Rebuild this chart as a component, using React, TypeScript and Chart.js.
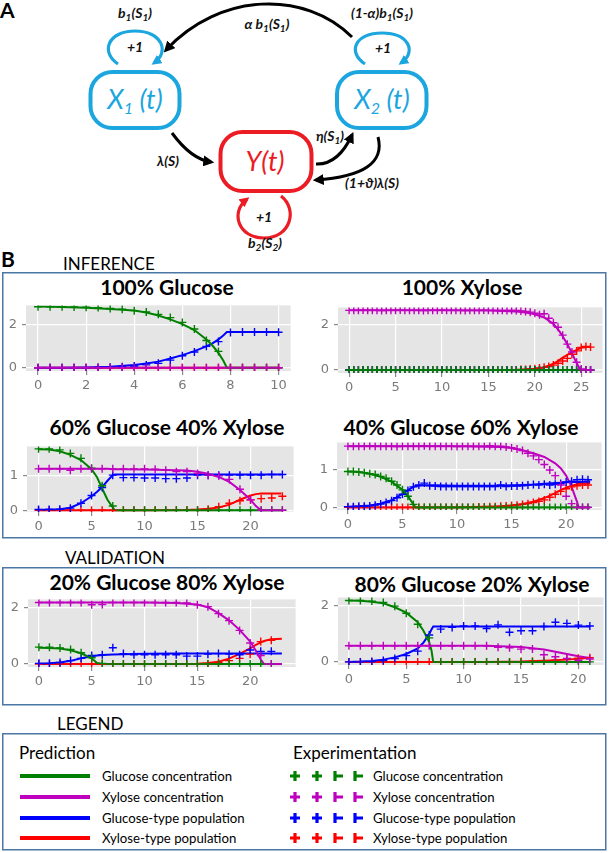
import React, { useEffect, useRef } from 'react';
import { Chart, registerables } from 'chart.js';

Chart.register(...registerables);

// ---------------- DATA ----------------
const seriesNames = ['Glucose concentration', 'Xylose concentration', 'Glucose-type population', 'Xylose-type population'];
const seriesColors = ['#008000', '#BF00BF', '#0000FF', '#FF0000'];

const xTicks10 = [0, 2, 4, 6, 8, 10];
const xTicks25 = [0, 5, 10, 15, 20, 25];
const xTicks20 = [0, 5, 10, 15, 20];
const yTicks2 = [0, 2];
const yTicks1 = [0, 1];

// Chart 1: 100% Glucose
const c1PredT = [0, 1, 2, 3, 4, 4.5, 5, 5.5, 6, 6.5, 7, 7.25, 7.5, 7.7, 7.85, 8, 9, 10];
const c1PredGlc = [2.81, 2.79, 2.75, 2.7, 2.63, 2.53, 2.4, 2.22, 2.0, 1.73, 1.3, 1.02, 0.68, 0.33, 0, 0, 0, 0];
const c1PredXyl = [0, 0, 0, 0, 0, 0, 0, 0, 0, 0, 0, 0, 0, 0, 0, 0, 0, 0];
const c1PredGpop = [0, 0, 0.01, 0.04, 0.12, 0.19, 0.28, 0.42, 0.58, 0.76, 0.98, 1.12, 1.3, 1.48, 1.64, 1.64, 1.64, 1.64];
const c1PredXpop = [0, 0, 0, 0, 0, 0, 0, 0, 0, 0, 0, 0, 0, 0, 0, 0, 0, 0];
const c1ExpT = [0, 0.5, 1, 1.5, 2, 2.5, 3, 3.5, 4, 4.5, 5, 5.5, 6, 6.5, 7, 7.5, 8, 8.5, 9, 9.5, 10];
const c1ExpGlc = [2.8, 2.8, 2.8, 2.79, 2.78, 2.76, 2.72, 2.68, 2.62, 2.56, 2.45, 2.3, 2.08, 1.78, 1.25, 0.75, 0, 0, 0, 0, 0];
const c1ExpXyl = [0, 0, 0, 0, 0, 0, 0, 0, 0, 0, 0, 0, 0, 0, 0, 0, 0, 0, 0, 0, 0];
const c1ExpGpop = [0, 0, 0, 0, 0, 0.01, 0.02, 0.04, 0.08, 0.13, 0.2, 0.35, 0.55, 0.72, 0.98, 1.2, 1.62, 1.64, 1.64, 1.64, 1.63];
const c1ExpXpop = [0, 0, 0, 0, 0, 0, 0, 0, 0, 0, 0, 0, 0, 0, 0, 0, 0, 0, 0, 0, 0];

// Chart 2: 100% Xylose
const c2PredT = [0, 5, 10, 15, 18, 19, 20, 21, 22, 22.6, 23, 23.5, 24, 24.4, 24.8, 25, 26];
const c2PredGlc = [0, 0, 0, 0, 0, 0, 0, 0, 0, 0, 0, 0, 0, 0, 0, 0, 0];
const c2PredXyl = [2.65, 2.65, 2.65, 2.64, 2.6, 2.55, 2.47, 2.33, 2.05, 1.75, 1.5, 1.15, 0.75, 0.4, 0.08, 0, 0];
const c2PredGpop = [0, 0, 0, 0, 0, 0, 0, 0, 0, 0, 0, 0, 0, 0, 0, 0, 0];
const c2PredXpop = [0, 0, 0, 0, 0.01, 0.03, 0.05, 0.12, 0.28, 0.43, 0.55, 0.67, 0.78, 0.87, 0.95, 1.0, 1.04];
const c2ExpT = [0, 0.5, 1, 1.5, 2, 2.5, 3, 3.5, 4, 4.5, 5, 5.5, 6, 6.5, 7, 7.5, 8, 8.5, 9, 9.5, 10, 10.5, 11, 11.5, 12, 12.5, 13, 13.5, 14, 14.5, 15, 15.5, 16, 16.5, 17, 17.5, 18, 18.5, 19, 19.5, 20, 20.5, 21, 21.5, 22, 22.5, 23, 23.5, 24, 24.5, 25, 25.5, 26];
const c2ExpGlc = [0, 0, 0, 0, 0, 0, 0, 0, 0, 0, 0, 0, 0, 0, 0, 0, 0, 0, 0, 0, 0, 0, 0, 0, 0, 0, 0, 0, 0, 0, 0, 0, 0, 0, 0, 0, 0, 0, 0, 0, 0, 0, 0, 0, 0, 0, 0, 0, 0, 0, 0, 0, 0];
const c2ExpXyl = [2.65, 2.65, 2.65, 2.66, 2.65, 2.65, 2.65, 2.64, 2.65, 2.65, 2.65, 2.66, 2.65, 2.65, 2.65, 2.65, 2.64, 2.65, 2.65, 2.65, 2.66, 2.65, 2.65, 2.65, 2.65, 2.64, 2.65, 2.65, 2.65, 2.66, 2.65, 2.65, 2.65, 2.65, 2.64, 2.65, 2.64, 2.62, 2.6, 2.57, 2.52, 2.45, 2.5, 2.3, 2.1, 1.9, 1.55, 1.15, 0.8, 0.35, 0.05, 0, 0];
const c2ExpGpop = [0, 0, 0, 0, 0, 0, 0, 0, 0, 0, 0, 0, 0, 0, 0, 0, 0, 0, 0, 0, 0, 0, 0, 0, 0, 0, 0, 0, 0, 0, 0, 0, 0, 0, 0, 0, 0, 0, 0, 0, 0, 0, 0, 0, 0, 0, 0, 0, 0, 0, 0, 0, 0];
const c2ExpXpop = [0, 0, 0, 0, 0, 0, 0, 0, 0, 0, 0, 0, 0, 0, 0, 0, 0, 0, 0, 0, 0, 0, 0, 0, 0, 0, 0, 0, 0, 0, 0, 0, 0, 0, 0, 0, 0, 0.02, 0.03, 0.05, 0.06, 0.09, 0.12, 0.16, 0.22, 0.3, 0.4, 0.52, 0.7, 0.85, 1.0, 1.05, 1.02];

// Chart 3: 60% Glucose 40% Xylose
const c3PredT = [0, 1, 2, 3, 4, 5, 5.5, 6, 6.5, 7, 7.2, 8, 10, 14, 15, 16, 17, 18, 19, 20, 20.5, 21, 22, 22.9];
const c3PredGlc = [1.74, 1.73, 1.68, 1.58, 1.43, 1.17, 0.95, 0.62, 0.3, 0.08, 0, 0, 0, 0, 0, 0, 0, 0, 0, 0, 0, 0, 0, 0];
const c3PredXyl = [1.18, 1.18, 1.18, 1.18, 1.18, 1.18, 1.18, 1.18, 1.18, 1.17, 1.17, 1.17, 1.16, 1.13, 1.1, 1.04, 0.95, 0.81, 0.58, 0.3, 0.12, 0, 0, 0];
const c3PredGpop = [0.01, 0.02, 0.03, 0.07, 0.2, 0.4, 0.52, 0.66, 0.84, 1.0, 1.02, 1.02, 1.02, 1.02, 1.02, 1.02, 1.02, 1.02, 1.02, 1.02, 1.02, 1.02, 1.02, 1.02];
const c3PredXpop = [0, 0, 0, 0, 0, 0, 0, 0, 0, 0, 0, 0, 0, 0.01, 0.02, 0.04, 0.08, 0.16, 0.3, 0.42, 0.46, 0.48, 0.48, 0.48];
const c3ExpT = [0, 1, 2, 3, 4, 5, 6, 7, 8, 9, 10, 11, 12, 13, 14, 15, 16, 17, 18, 19, 20, 21, 22, 23];
const c3ExpGlc = [1.75, 1.75, 1.72, 1.62, 1.48, 1.2, 0.7, 0.12, 0, 0, 0, 0, 0, 0, 0, 0, 0, 0, 0, 0, 0, 0, 0, 0];
const c3ExpXyl = [1.18, 1.18, 1.18, 1.14, 1.18, 1.18, 1.18, 1.18, 1.18, 1.18, 1.18, 1.17, 1.14, 1.1, 1.1, 1.05, 1.0, 0.98, 0.88, 0.6, 0.3, 0, 0, 0];
const c3ExpGpop = [0.02, 0.02, 0.03, 0.06, 0.2, 0.42, 0.65, 1.0, 0.93, 0.93, 0.92, 0.92, 0.9, 0.9, 0.92, 1.0, 1.0, 1.0, 1.0, 1.0, 1.0, 1.0, 1.02, 1.02];
const c3ExpXpop = [0, 0, 0, 0, 0, 0, 0, 0, 0, 0, 0, 0, 0, 0, 0, 0, 0.03, 0.1, 0.2, 0.27, 0.3, 0.33, 0.35, 0.4];

// Chart 4: 40% Glucose 60% Xylose
const c4PredT = [0, 1, 2, 3, 4, 5, 5.5, 6, 6.2, 7, 8, 10, 14, 15, 16, 17, 18, 19, 19.5, 20, 20.5, 21, 21.15, 22, 22.2];
const c4PredGlc = [0.96, 0.95, 0.9, 0.82, 0.69, 0.47, 0.3, 0.08, 0, 0, 0, 0, 0, 0, 0, 0, 0, 0, 0, 0, 0, 0, 0, 0, 0];
const c4PredXyl = [1.64, 1.64, 1.64, 1.64, 1.64, 1.64, 1.64, 1.64, 1.64, 1.64, 1.64, 1.64, 1.62, 1.59, 1.53, 1.45, 1.35, 1.18, 1.05, 0.85, 0.55, 0.15, 0, 0, 0];
const c4PredGpop = [0.02, 0.03, 0.05, 0.1, 0.19, 0.36, 0.46, 0.55, 0.57, 0.59, 0.59, 0.58, 0.58, 0.59, 0.6, 0.61, 0.63, 0.65, 0.66, 0.67, 0.68, 0.68, 0.68, 0.69, 0.69];
const c4PredXpop = [0, 0, 0, 0, 0, 0, 0, 0, 0, 0, 0, 0, 0.03, 0.05, 0.09, 0.15, 0.25, 0.38, 0.46, 0.53, 0.58, 0.62, 0.63, 0.65, 0.65];
const c4ExpT = [0, 0.5, 1, 1.5, 2, 2.5, 3, 3.5, 4, 4.5, 5, 5.5, 6, 6.5, 7, 7.5, 8, 8.5, 9, 9.5, 10, 10.5, 11, 11.5, 12, 12.5, 13, 13.5, 14, 14.5, 15, 15.5, 16, 16.5, 17, 17.5, 18, 18.5, 19, 19.5, 20, 20.5, 21, 21.5, 22];
const c4ExpGlc = [0.96, 0.96, 0.95, 0.93, 0.9, 0.88, 0.83, 0.78, 0.7, 0.6, 0.47, 0.3, 0.08, 0, 0, 0, 0, 0, 0, 0, 0, 0, 0, 0, 0, 0, 0, 0, 0, 0, 0, 0, 0, 0, 0, 0, 0, 0, 0, 0, 0, 0, 0, 0, 0];
const c4ExpXyl = [1.64, 1.64, 1.64, 1.64, 1.65, 1.64, 1.64, 1.64, 1.64, 1.63, 1.64, 1.64, 1.64, 1.64, 1.65, 1.64, 1.64, 1.64, 1.64, 1.64, 1.63, 1.64, 1.64, 1.64, 1.64, 1.64, 1.65, 1.64, 1.64, 1.62, 1.6, 1.56, 1.52, 1.45, 1.38, 1.28, 1.15, 1.0, 0.85, 0.6, 0.3, 0.1, 0, 0, 0];
const c4ExpGpop = [0.02, 0.02, 0.03, 0.03, 0.04, 0.06, 0.09, 0.13, 0.18, 0.26, 0.35, 0.45, 0.55, 0.6, 0.65, 0.58, 0.57, 0.56, 0.56, 0.56, 0.56, 0.56, 0.56, 0.56, 0.56, 0.56, 0.56, 0.56, 0.6, 0.56, 0.57, 0.57, 0.58, 0.6, 0.61, 0.6, 0.62, 0.6, 0.62, 0.64, 0.68, 0.7, 0.74, 0.75, 0.74];
const c4ExpXpop = [0, 0, 0, 0, 0, 0, 0, 0, 0, 0, 0, 0, 0, 0, 0, 0, 0, 0, 0, 0, 0, 0, 0, 0, 0.01, 0.01, 0.02, 0.02, 0.03, 0.04, 0.05, 0.06, 0.08, 0.1, 0.13, 0.16, 0.2, 0.27, 0.35, 0.43, 0.5, 0.55, 0.58, 0.6, 0.6];

// Chart 5: 20% Glucose 80% Xylose
const c5PredT = [0, 1, 2, 3, 4, 5, 5.5, 6, 7, 10, 13, 15, 16, 17, 18, 19, 20, 20.5, 21, 21.3, 22, 23];
const c5PredGlc = [0.58, 0.57, 0.55, 0.49, 0.38, 0.2, 0.03, 0, 0, 0, 0, 0, 0, 0, 0, 0, 0, 0, 0, 0, 0, 0];
const c5PredXyl = [2.2, 2.2, 2.2, 2.2, 2.2, 2.2, 2.2, 2.2, 2.2, 2.2, 2.18, 2.13, 2.03, 1.82, 1.56, 1.22, 0.8, 0.5, 0.16, 0, 0, 0];
const c5PredGpop = [0.01, 0.02, 0.05, 0.11, 0.2, 0.27, 0.3, 0.32, 0.34, 0.36, 0.37, 0.37, 0.37, 0.37, 0.37, 0.37, 0.37, 0.37, 0.37, 0.37, 0.37, 0.37];
const c5PredXpop = [0, 0, 0, 0, 0, 0, 0, 0, 0, 0, 0, 0.01, 0.03, 0.08, 0.19, 0.36, 0.56, 0.67, 0.77, 0.82, 0.88, 0.9];
const c5ExpT = [0, 1, 2, 3, 4, 5, 6, 7, 8, 9, 10, 11, 12, 13, 14, 15, 16, 17, 18, 19, 20, 21, 22];
const c5ExpGlc = [0.6, 0.6, 0.57, 0.52, 0.4, 0.22, 0.02, 0, 0, 0, 0, 0, 0, 0, 0, 0, 0, 0, 0, 0, 0, 0, 0];
const c5ExpXyl = [2.2, 2.2, 2.2, 2.2, 2.2, 2.12, 2.13, 2.2, 2.2, 2.2, 2.2, 2.2, 2.2, 2.2, 2.18, 2.12, 2.05, 1.8, 1.55, 1.2, 0.75, 0.3, 0];
const c5ExpGpop = [0.02, 0.02, 0.05, 0.12, 0.2, 0.3, 0.33, 0.58, 0.37, 0.33, 0.33, 0.33, 0.33, 0.33, 0.28, 0.28, 0.35, 0.37, 0.35, 0.33, 0.5, 0.45, 0.45];
const c5ExpXpop = [0, 0, 0, 0, 0, 0, 0, 0, 0, 0, 0, 0, 0, 0, 0, 0, 0, 0.05, 0.12, 0.2, 0.35, 0.8, 0.85];

// Chart 6: 80% Glucose 20% Xylose
const c6PredT = [0, 1, 2, 3, 4, 5, 6, 6.5, 7, 7.2, 7.35, 8, 10, 12, 15, 17, 19, 20, 21];
const c6PredGlc = [2.17, 2.16, 2.13, 2.07, 1.93, 1.74, 1.4, 1.1, 0.7, 0.4, 0, 0, 0, 0, 0, 0, 0, 0, 0];
const c6PredXyl = [0.57, 0.57, 0.57, 0.57, 0.57, 0.57, 0.57, 0.57, 0.57, 0.57, 0.57, 0.57, 0.57, 0.57, 0.53, 0.44, 0.28, 0.2, 0.14];
const c6PredGpop = [0, 0.01, 0.03, 0.08, 0.16, 0.28, 0.48, 0.68, 0.98, 1.15, 1.25, 1.25, 1.25, 1.25, 1.25, 1.25, 1.25, 1.25, 1.25];
const c6PredXpop = [0, 0, 0, 0, 0, 0, 0, 0, 0, 0, 0, 0, 0, 0, 0.01, 0.04, 0.08, 0.11, 0.15];
const c6ExpT = [0, 1, 2, 3, 4, 5, 6, 7, 8, 9, 10, 11, 12, 13, 14, 15, 16, 17, 18, 19, 20, 21];
const c6ExpGlc = [2.17, 2.17, 2.15, 2.1, 1.97, 1.72, 1.33, 0.85, 0, 0, 0, 0, 0, 0, 0, 0, 0, 0, 0, 0, 0, 0];
const c6ExpXyl = [0.57, 0.57, 0.57, 0.57, 0.57, 0.57, 0.57, 0.57, 0.57, 0.57, 0.57, 0.57, 0.57, 0.52, 0.5, 0.45, 0.46, 0.25, 0.18, 0.12, 0.06, 0.1];
const c6ExpGpop = [0, 0, 0.01, 0.05, 0.12, 0.22, 0.38, 0.95, 1.16, 1.22, 1.27, 1.27, 1.18, 1.31, 1.05, 1.1, 1.1, 1.25, 1.4, 1.36, 1.3, 1.27];
const c6ExpXpop = [0, 0, 0, 0, 0, 0, 0, 0, 0, 0, 0, 0, 0, 0, 0, 0.01, 0.02, 0.04, 0.06, 0.1, 0.13, 0.15];

// ---------------- LAYOUT ----------------
const FONT = 'Lato, "Open Sans", "DejaVu Sans", sans-serif';
const BOX_COLOR = '#4A77A6';
const CYAN = '#1BA6DF';
const DRED = '#EC1C24';

type PanelSpec = {
  title: string; titleX: number; titleY: number;
  plot: { l: number; t: number; r: number; b: number };
  xRange: [number, number]; yRange: [number, number];
  xTicks: number[]; yTicks: number[];
  predT: number[]; pred: number[][];
  expT: number[]; exp: number[][];
};

const panels: PanelSpec[] = [
  { title: '100% Glucose', titleX: 167, titleY: 295, plot: { l: 26, t: 304, r: 292, b: 371 }, xRange: [-0.5, 10.5], yRange: [-0.15, 2.86], xTicks: xTicks10, yTicks: yTicks2,
    predT: c1PredT, pred: [c1PredGlc, c1PredXyl, c1PredGpop, c1PredXpop], expT: c1ExpT, exp: [c1ExpGlc, c1ExpXyl, c1ExpGpop, c1ExpXpop] },
  { title: '100% Xylose', titleX: 462, titleY: 295, plot: { l: 338, t: 306, r: 604, b: 373 }, xRange: [-1.2, 27.3], yRange: [-0.13, 2.78], xTicks: xTicks25, yTicks: yTicks2,
    predT: c2PredT, pred: [c2PredGlc, c2PredXyl, c2PredGpop, c2PredXpop], expT: c2ExpT, exp: [c2ExpGlc, c2ExpXyl, c2ExpGpop, c2ExpXpop] },
  { title: '60% Glucose 40% Xylose', titleX: 167, titleY: 435, plot: { l: 27, t: 445, r: 295, b: 512 }, xRange: [-1.09, 24.06], yRange: [-0.05, 1.82], xTicks: xTicks20, yTicks: yTicks1,
    predT: c3PredT, pred: [c3PredGlc, c3PredXyl, c3PredGpop, c3PredXpop], expT: c3ExpT, exp: [c3ExpGlc, c3ExpXyl, c3ExpGpop, c3ExpXpop] },
  { title: '40% Glucose 60% Xylose', titleX: 461, titleY: 435, plot: { l: 337, t: 441, r: 603, b: 510 }, xRange: [-1.0, 23.25], yRange: [-0.07, 1.74], xTicks: xTicks20, yTicks: yTicks1,
    predT: c4PredT, pred: [c4PredGlc, c4PredXyl, c4PredGpop, c4PredXpop], expT: c4ExpT, exp: [c4ExpGlc, c4ExpXyl, c4ExpGpop, c4ExpXpop] },
  { title: '20% Glucose 80% Xylose', titleX: 167, titleY: 590, plot: { l: 28, t: 598, r: 297, b: 667 }, xRange: [-1.03, 24.3], yRange: [-0.11, 2.31], xTicks: xTicks20, yTicks: yTicks2,
    predT: c5PredT, pred: [c5PredGlc, c5PredXyl, c5PredGpop, c5PredXpop], expT: c5ExpT, exp: [c5ExpGlc, c5ExpXyl, c5ExpGpop, c5ExpXpop] },
  { title: '80% Glucose 20% Xylose', titleX: 472, titleY: 592, plot: { l: 338, t: 596, r: 605, b: 665 }, xRange: [-0.95, 22.2], yRange: [-0.11, 2.28], xTicks: xTicks20, yTicks: yTicks2,
    predT: c6PredT, pred: [c6PredGlc, c6PredXyl, c6PredGpop, c6PredXpop], expT: c6ExpT, exp: [c6ExpGlc, c6ExpXyl, c6ExpGpop, c6ExpXpop] },
];

const Y_AXIS_W = 26;
const X_AXIS_H = 24;
const PAD_TOP = 4;
const PAD_RIGHT = 4;

const plotBgPlugin = {
  id: 'plotBg',
  beforeDraw(chart: any) {
    const { ctx, chartArea: a } = chart;
    ctx.save();
    ctx.fillStyle = '#E5E5E5';
    ctx.fillRect(a.left, a.top, a.right - a.left, a.bottom - a.top);
    ctx.restore();
  },
};

function MiniChart({ p }: { p: PanelSpec }) {
  const ref = useRef<HTMLCanvasElement>(null);
  const w = p.plot.r - p.plot.l + Y_AXIS_W + PAD_RIGHT;
  const h = p.plot.b - p.plot.t + PAD_TOP + X_AXIS_H;
  useEffect(() => {
    if (!ref.current) return;
    const zOrder = [1, 0, 2, 3]; // xylose, glucose, glucose-type, xylose-type (first = on top)
    const datasets: any[] = [];
    zOrder.forEach((i) => {
      datasets.push({
        data: p.expT.map((t, k) => ({ x: t, y: p.exp[i][k] })),
        showLine: false,
        pointStyle: 'cross',
        pointRadius: 4,
        pointBorderWidth: 1.4,
        pointBorderColor: seriesColors[i],
        borderColor: seriesColors[i],
        backgroundColor: seriesColors[i],
      });
    });
    zOrder.forEach((i) => {
      datasets.push({
        data: p.predT.map((t, k) => ({ x: t, y: p.pred[i][k] })),
        borderColor: seriesColors[i],
        borderWidth: 2,
        pointRadius: 0,
        tension: 0,
        fill: false,
      });
    });
    const tickFont = { family: '"DejaVu Sans", sans-serif', size: 13 };
    const chart = new Chart(ref.current, {
      type: 'line',
      data: { datasets },
      plugins: [plotBgPlugin],
      options: {
        responsive: false,
        animation: false,
        devicePixelRatio: 1,
        events: [],
        layout: { padding: { top: PAD_TOP, right: PAD_RIGHT, left: 0, bottom: 0 } },
        plugins: { legend: { display: false }, tooltip: { enabled: false }, title: { display: false } },
        scales: {
          x: {
            type: 'linear',
            min: p.xRange[0],
            max: p.xRange[1],
            afterBuildTicks: (s: any) => { s.ticks = p.xTicks.map((v) => ({ value: v })); },
            afterFit: (s: any) => { s.height = X_AXIS_H; s.paddingLeft = 0; s.paddingRight = 0; },
            grid: { color: '#FFFFFF', lineWidth: 1.2, tickColor: '#8a8a8a', tickLength: 4, drawTicks: true },
            border: { display: false },
            ticks: { color: '#7a7a7a', font: tickFont, padding: 3, maxRotation: 0, autoSkip: false, callback: (v: any) => String(v) },
          },
          y: {
            type: 'linear',
            min: p.yRange[0],
            max: p.yRange[1],
            afterBuildTicks: (s: any) => { s.ticks = p.yTicks.map((v) => ({ value: v })); },
            afterFit: (s: any) => { s.width = Y_AXIS_W; s.paddingTop = 0; s.paddingBottom = 0; },
            grid: { color: '#FFFFFF', lineWidth: 1.2, tickColor: '#8a8a8a', tickLength: 4, drawTicks: true },
            border: { display: false },
            ticks: { color: '#7a7a7a', font: tickFont, padding: 5, autoSkip: false, callback: (v: any) => String(v) },
          },
        },
      } as any,
    });
    return () => chart.destroy();
  }, []);
  return (
    <canvas
      ref={ref}
      width={w}
      height={h}
      style={{ position: 'absolute', left: p.plot.l - Y_AXIS_W, top: p.plot.t - PAD_TOP, width: w, height: h }}
    />
  );
}

const lab: any = { fontFamily: FONT, fontStyle: 'italic', fontWeight: 700, fontSize: 14, fill: '#111', textAnchor: 'middle' };
const SUB = 10;

function Diagram() {
  return (
    <g>
      <defs>
        <marker id="ahK" viewBox="0 0 10 10" refX="7" refY="5" markerWidth="11" markerHeight="11" markerUnits="userSpaceOnUse" orient="auto">
          <path d="M0,0 L10,5 L0,10 z" fill="#000" />
        </marker>
        <marker id="ahC" viewBox="0 0 10 10" refX="7" refY="5" markerWidth="10" markerHeight="10" markerUnits="userSpaceOnUse" orient="auto">
          <path d="M0,0 L10,5 L0,10 z" fill={CYAN} />
        </marker>
        <marker id="ahR" viewBox="0 0 10 10" refX="7" refY="5" markerWidth="10" markerHeight="10" markerUnits="userSpaceOnUse" orient="auto">
          <path d="M0,0 L10,5 L0,10 z" fill={DRED} />
        </marker>
      </defs>
      <text x={0} y={18} fontFamily={FONT} fontWeight={700} fontSize={21} fill="#000">A</text>

      {/* boxes */}
      <rect x={90.5} y={72} width={89} height={56} rx={22} fill="#fff" stroke={CYAN} strokeWidth={4} />
      <rect x={337} y={72} width={89.5} height={56} rx={22} fill="#fff" stroke={CYAN} strokeWidth={4} />
      <rect x={220.5} y={132} width={91} height={59} rx={22} fill="#fff" stroke={DRED} strokeWidth={4} />
      <text x={135} y={109} fontFamily={FONT} fontStyle="italic" fontSize={27} fill={CYAN} textAnchor="middle">X<tspan fontSize={16} dy={5}>1</tspan><tspan dy={-5}> (t)</tspan></text>
      <text x={382} y={109} fontFamily={FONT} fontStyle="italic" fontSize={27} fill={CYAN} textAnchor="middle">X<tspan fontSize={16} dy={5}>2</tspan><tspan dy={-5}> (t)</tspan></text>
      <text x={265} y={171} fontFamily={FONT} fontStyle="italic" fontSize={27} fill={DRED} textAnchor="middle">Y(t)</text>

      {/* self loops */}
      <path d="M 118 64 C 100 52, 108 31, 135 31 C 162 31, 170 52, 154 63" fill="none" stroke={CYAN} strokeWidth={3.2} markerEnd="url(#ahC)" />
      <path d="M 365 64 C 347 52, 355 33, 382 33 C 409 33, 417 52, 401 63" fill="none" stroke={CYAN} strokeWidth={3.2} markerEnd="url(#ahC)" />
      <path d="M 281 196 C 298 209, 291 238, 264 238 C 238 238, 230 212, 247 199" fill="none" stroke={DRED} strokeWidth={3.2} markerEnd="url(#ahR)" />
      <text x={135} y={52} {...lab}>+1</text>
      <text x={383} y={53} {...lab}>+1</text>
      <text x={264} y={222} {...lab}>+1</text>

      {/* transitions */}
      <path d="M 352 37 C 305 -10, 220 -8, 166 50" fill="none" stroke="#000" strokeWidth={3} markerEnd="url(#ahK)" />
      <path d="M 172 133 Q 191 159 211 162" fill="none" stroke="#000" strokeWidth={3} markerEnd="url(#ahK)" />
      <path d="M 316 164 Q 338 165 352 135" fill="none" stroke="#000" strokeWidth={3} markerEnd="url(#ahK)" />
      <path d="M 378 137 Q 388 175 316 180" fill="none" stroke="#000" strokeWidth={3} markerEnd="url(#ahK)" />

      {/* labels */}
      <text x={135} y={18} {...lab}>b<tspan fontSize={SUB} dy={3}>1</tspan><tspan dy={-3}>(S</tspan><tspan fontSize={SUB} dy={3}>1</tspan><tspan dy={-3}>)</tspan></text>
      <text x={382} y={18} {...lab}>(1-α)b<tspan fontSize={SUB} dy={3}>1</tspan><tspan dy={-3}>(S</tspan><tspan fontSize={SUB} dy={3}>1</tspan><tspan dy={-3}>)</tspan></text>
      <text x={267} y={29} {...lab}>α b<tspan fontSize={SUB} dy={3}>1</tspan><tspan dy={-3}>(S</tspan><tspan fontSize={SUB} dy={3}>1</tspan><tspan dy={-3}>)</tspan></text>
      <text x={168} y={166} {...lab}>λ(S)</text>
      <text x={330} y={141} {...lab}>η(S<tspan fontSize={SUB} dy={3}>1</tspan><tspan dy={-3}>)</tspan></text>
      <text x={372} y={188} {...lab}>(1+ϑ)λ(S)</text>
      <text x={265} y={248} {...lab}>b<tspan fontSize={SUB} dy={3}>2</tspan><tspan dy={-3}>(S</tspan><tspan fontSize={SUB} dy={3}>2</tspan><tspan dy={-3}>)</tspan></text>
    </g>
  );
}

const legendRowsY = [776, 797, 818, 838];
const expMarkerX = [295, 317, 338, 358];

function Legend() {
  return (
    <g>
      <text x={19} y={759} fontFamily={FONT} fontSize={17} fill="#000">Prediction</text>
      <text x={293} y={759} fontFamily={FONT} fontSize={17} fill="#000">Experimentation</text>
      {seriesNames.map((name, i) => {
        const y = legendRowsY[i];
        const c = seriesColors[i];
        return (
          <g key={name}>
            <line x1={20} x2={90} y1={y} y2={y} stroke={c} strokeWidth={4} />
            <text x={102} y={y + 5} fontFamily={FONT} fontSize={13.2} fill="#000">{name}</text>
            {expMarkerX.map((mx, j) => (
              <path
                key={j}
                d={j < 2 ? `M ${mx - 5} ${y} H ${mx + 5} M ${mx} ${y - 5} V ${y + 5}` : `M ${mx - 3} ${y - 5} V ${y + 5} M ${mx - 3} ${y} H ${mx + 5}`}
                stroke={c}
                strokeWidth={3.2}
                fill="none"
              />
            ))}
            <text x={373} y={y + 5} fontFamily={FONT} fontSize={13.2} fill="#000">{name}</text>
          </g>
        );
      })}
    </g>
  );
}

export default function App() {
  const secLabel: any = { fontFamily: FONT, fontSize: 17, fill: '#000' };
  return (
    <div style={{ position: 'absolute', left: 0, top: 0, width: 609, height: 853, background: '#fff', overflow: 'hidden' }}>
      <svg width={609} height={853} style={{ position: 'absolute', left: 0, top: 0 }}>
        <Diagram />
        <text x={1} y={267} fontFamily={FONT} fontWeight={700} fontSize={21} fill="#000">B</text>
        <text x={63} y={270} {...secLabel}>INFERENCE</text>
        <text x={65} y={564} {...secLabel}>VALIDATION</text>
        <text x={57} y={730} {...secLabel}>LEGEND</text>
        <rect x={2.75} y={272.75} width={603} height={265} fill="none" stroke={BOX_COLOR} strokeWidth={1.5} />
        <rect x={2.75} y={567.75} width={603} height={137} fill="none" stroke={BOX_COLOR} strokeWidth={1.5} />
        <rect x={2.75} y={733.75} width={603} height={116} fill="none" stroke={BOX_COLOR} strokeWidth={1.5} />
        {panels.map((p) => (
          <text key={p.title} x={p.titleX} y={p.titleY} fontFamily={FONT} fontWeight={700} fontSize={21} fill="#000" textAnchor="middle">{p.title}</text>
        ))}
        <Legend />
      </svg>
      {panels.map((p) => (
        <MiniChart key={p.title} p={p} />
      ))}
    </div>
  );
}
